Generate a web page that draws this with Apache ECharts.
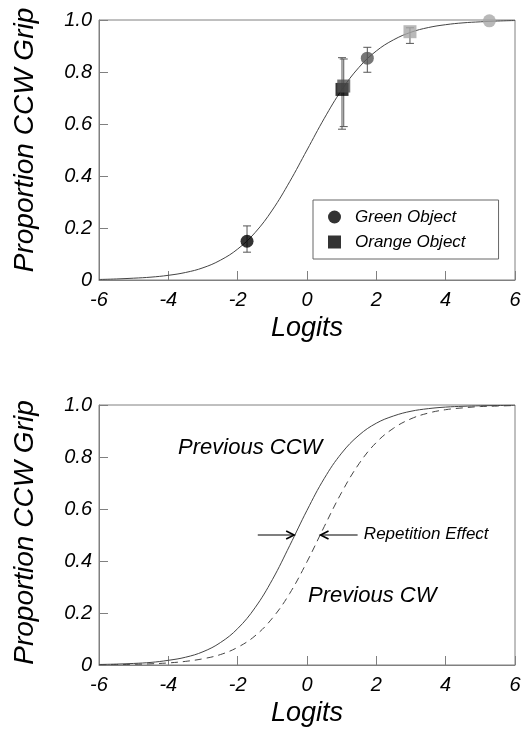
<!DOCTYPE html>
<html>
<head>
<meta charset="utf-8">
<script src="https://cdn.jsdelivr.net/npm/echarts@6/dist/echarts.min.js"></script>
<style>
  html, body { margin: 0; padding: 0; background: #fff; }
  #chart { width: 524px; height: 734px; }
</style>
</head>
<body>
<div id="chart"></div>
<script>
// Logit grid used for the fitted psychometric curves
const logits = [-6, -5.5, -5, -4.5, -4, -3.5, -3, -2.5, -2, -1.5, -1, -0.5, 0,
                0.5, 1, 1.5, 2, 2.5, 3, 3.5, 4, 4.5, 5, 5.5, 6];

// Upper panel: fitted curve over all trials
const fitAll = [0.002, 0.004, 0.007, 0.011, 0.018, 0.029, 0.047, 0.076, 0.119, 0.182, 0.269, 0.378, 0.5,
                0.622, 0.731, 0.818, 0.881, 0.924, 0.953, 0.971, 0.982, 0.989, 0.993, 0.996, 0.998];

// Lower panel: curves split by the previous trial's grip
const fitPrevCCW = [0.002, 0.0035, 0.006, 0.010, 0.018, 0.030, 0.051, 0.086, 0.140, 0.220, 0.328, 0.459, 0.595,
                    0.718, 0.815, 0.884, 0.930, 0.958, 0.976, 0.986, 0.992, 0.995, 0.997, 0.998, 0.999];
const fitPrevCW  = [0.001, 0.0016, 0.0027, 0.0046, 0.008, 0.014, 0.024, 0.040, 0.068, 0.112, 0.180, 0.275, 0.397,
                    0.533, 0.664, 0.774, 0.856, 0.911, 0.947, 0.969, 0.982, 0.989, 0.994, 0.996, 0.998];

// Observed proportions with error bars
const greenX  = [-1.73, 1.74, 5.26];
const greenY  = [0.149, 0.853, 0.997];
const greenLo = [0.107, 0.799, null];
const greenHi = [0.208, 0.895, null];

const orangeX  = [1.01, 1.06, 2.97];
const orangeY  = [0.733, 0.746, 0.955];
const orangeLo = [0.58, 0.59, 0.91];
const orangeHi = [0.855, 0.85, 0.97];

// Repetition-effect arrows at the 50% point: [from logit, to logit, proportion]
const shiftArrows = [[-1.42, -0.37, 0.5], [1.46, 0.39, 0.5]];

// Axis ticks
const xTicks = [-6, -4, -2, 0, 2, 4, 6];
const yTicks = [0, 0.2, 0.4, 0.6, 0.8, 1.0];

// Marker shades per condition (styling)
const greenShades  = ['#000000', '#555555', '#a8a8a8'];
const orangeShades = ['#000000', '#4f4f4f', '#a8a8a8'];

const FONT = '"Liberation Sans", Arial, Helvetica, sans-serif';
const AXIS_COLOR = '#808080';

function pairs(xs, ys) { return xs.map((x, i) => [x, ys[i]]); }

function xAxisCfg(gridIndex) {
  return {
    type: 'value', gridIndex,
    min: xTicks[0], max: xTicks[xTicks.length - 1], interval: 2,
    name: 'Logits', nameLocation: 'middle', nameGap: 35,
    nameTextStyle: { fontFamily: FONT, fontStyle: 'italic', fontSize: 27, color: '#000' },
    axisLine: { show: true, onZero: false, lineStyle: { color: AXIS_COLOR, width: 1 } },
    axisTick: { show: true, inside: true, length: 9, lineStyle: { color: AXIS_COLOR } },
    axisLabel: { margin: 10, fontFamily: FONT, fontStyle: 'italic', fontSize: 20, color: '#000' },
    splitLine: { show: false }
  };
}
function yAxisCfg(gridIndex, shift) {
  return {
    type: 'value', gridIndex,
    min: yTicks[0], max: yTicks[yTicks.length - 1], interval: 0.2,
    name: 'Proportion CCW Grip', nameLocation: 'middle', nameGap: 60,
    nameTextStyle: { fontFamily: FONT, fontStyle: 'italic', fontSize: 28, color: '#000', padding: [0, 0, 0, shift] },
    axisLine: { show: true, onZero: false, lineStyle: { color: AXIS_COLOR, width: 1 } },
    axisTick: { show: true, inside: true, length: 9, lineStyle: { color: AXIS_COLOR } },
    axisLabel: {
      margin: 7, fontFamily: FONT, fontStyle: 'italic', fontSize: 20, color: '#000',
      formatter: v => (v === 0 ? '0' : v.toFixed(1))
    },
    splitLine: { show: false }
  };
}

// Vertical error bar with end caps, positioned through the axis scales
function errorBarRender(params, api) {
  const x = api.value(0);
  const pLo = api.coord([x, api.value(1)]);
  const pHi = api.coord([x, api.value(2)]);
  const cap = 4;
  const style = { stroke: '#555', lineWidth: 1 };
  return {
    type: 'group',
    children: [
      { type: 'line', shape: { x1: pLo[0], y1: pLo[1], x2: pHi[0], y2: pHi[1] }, style },
      { type: 'line', shape: { x1: pLo[0] - cap, y1: pLo[1], x2: pLo[0] + cap, y2: pLo[1] }, style },
      { type: 'line', shape: { x1: pHi[0] - cap, y1: pHi[1], x2: pHi[0] + cap, y2: pHi[1] }, style }
    ]
  };
}

// Horizontal arrow with an open arrowhead at its tip
function arrowRender(params, api) {
  const y = api.value(2);
  const a = api.coord([api.value(0), y]);
  const b = api.coord([api.value(1), y]);
  const dir = b[0] > a[0] ? 1 : -1;
  const len = 8, half = 4;
  const style = { stroke: '#000', lineWidth: 1.2, fill: null };
  return {
    type: 'group',
    children: [
      { type: 'line', shape: { x1: a[0], y1: a[1], x2: b[0], y2: b[1] }, style },
      { type: 'polyline', shape: { points: [[b[0] - dir * len, b[1] - half], [b[0], b[1]], [b[0] - dir * len, b[1] + half]] },
        style: { stroke: '#000', lineWidth: 1.6, fill: null } }
    ]
  };
}

const errorData = [];
greenX.forEach((x, i) => { if (greenLo[i] != null) errorData.push([x, greenLo[i], greenHi[i]]); });
orangeX.forEach((x, i) => { if (orangeLo[i] != null) errorData.push([x, orangeLo[i], orangeHi[i]]); });

const chart = echarts.init(document.getElementById('chart'), null, { renderer: 'canvas' });

const option = {
  animation: false,
  backgroundColor: '#fff',
  grid: [
    { left: 99, top: 20, width: 416, height: 260, show: true, borderColor: AXIS_COLOR, borderWidth: 1, backgroundColor: 'transparent' },
    { left: 99, top: 405, width: 416, height: 260, show: true, borderColor: AXIS_COLOR, borderWidth: 1, backgroundColor: 'transparent' }
  ],
  xAxis: [xAxisCfg(0), xAxisCfg(1)],
  yAxis: [yAxisCfg(0, 20), yAxisCfg(1, 5)],
  legend: {
    orient: 'vertical',
    left: 313, top: 200,
    padding: [7, 33, 7, 15],
    borderColor: '#666', borderWidth: 1,
    itemWidth: 13, itemHeight: 13, itemGap: 5,
    selectedMode: false,
    textStyle: { fontFamily: FONT, fontStyle: 'italic', fontSize: 17, color: '#000', lineHeight: 20, padding: [0, 0, 0, 9] },
    data: [
      { name: 'Green Object', icon: 'circle', itemStyle: { color: '#000' } },
      { name: 'Orange Object', icon: 'rect', itemStyle: { color: '#000' } }
    ]
  },
  series: [
    {
      name: 'fit', type: 'line', xAxisIndex: 0, yAxisIndex: 0,
      data: pairs(logits, fitAll), smooth: 0.4, showSymbol: false, silent: true,
      lineStyle: { color: '#444', width: 1 }, z: 2
    },
    {
      name: 'errors', type: 'custom', xAxisIndex: 0, yAxisIndex: 0,
      renderItem: errorBarRender, data: errorData, silent: true, z: 3
    },
    {
      name: 'Green Object', type: 'scatter', xAxisIndex: 0, yAxisIndex: 0,
      symbol: 'circle', symbolSize: 13, silent: true, z: 4,
      data: greenX.map((x, i) => ({ value: [x, greenY[i]], itemStyle: { color: greenShades[i] } }))
    },
    {
      name: 'Orange Object', type: 'scatter', xAxisIndex: 0, yAxisIndex: 0,
      symbol: 'rect', symbolSize: 13, silent: true, z: 4,
      data: orangeX.map((x, i) => ({ value: [x, orangeY[i]], itemStyle: { color: orangeShades[i] } }))
    },
    {
      name: 'Previous CCW', type: 'line', xAxisIndex: 1, yAxisIndex: 1,
      data: pairs(logits, fitPrevCCW), smooth: 0.4, showSymbol: false, silent: true,
      lineStyle: { color: '#444', width: 1 }
    },
    {
      name: 'Previous CW', type: 'line', xAxisIndex: 1, yAxisIndex: 1,
      data: pairs(logits, fitPrevCW), smooth: 0.4, showSymbol: false, silent: true,
      lineStyle: { color: '#444', width: 1, type: [7, 5] }
    },
    {
      name: 'shift', type: 'custom', xAxisIndex: 1, yAxisIndex: 1,
      renderItem: arrowRender, data: shiftArrows, silent: true, z: 5
    }
  ]
};

chart.setOption(option);

// Curve labels in the lower panel, anchored in data space
const notes = [
  { text: 'Previous CCW', at: [-3.72, 0.83], size: 22 },
  { text: 'Previous CW', at: [0.03, 0.263], size: 22 },
  { text: 'Repetition Effect', at: [1.64, 0.5], size: 17 }
];
chart.setOption({
  graphic: notes.map(n => {
    const p = chart.convertToPixel({ gridIndex: 1 }, n.at);
    return {
      type: 'text', left: p[0], top: p[1] - n.size / 2 - 1, silent: true,
      style: { text: n.text, font: 'italic ' + n.size + 'px ' + FONT, fill: '#000' }
    };
  })
});
</script>
</body>
</html>
